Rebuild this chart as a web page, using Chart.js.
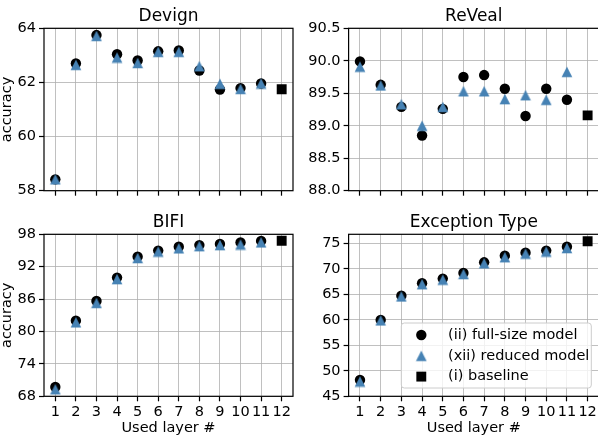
<!DOCTYPE html>
<html lang="en">
  <head>
    <meta charset="UTF-8" />
    <title>Used layer accuracy</title>
    <script src="https://cdn.jsdelivr.net/npm/chart.js"></script>
    <style>
      html, body { margin: 0; padding: 0; background: #fff; width: 598px; height: 446px; overflow: hidden; position: relative; }
      canvas { position: absolute; }
    </style>
  </head>
  <body>
    <canvas id="devign" width="300" height="205" style="left: 0; top: 0"></canvas>
    <canvas id="reveal" width="308" height="205" style="left: 298px; top: 0"></canvas>
    <canvas id="bifi" width="300" height="241" style="left: 0; top: 205px"></canvas>
    <canvas id="exception" width="308" height="241" style="left: 298px; top: 205px"></canvas>
    <script>
      // data
      const layers = [1, 2, 3, 4, 5, 6, 7, 8, 9, 10, 11];
      const baselineLayer = 12;
      const layerTicks = [1, 2, 3, 4, 5, 6, 7, 8, 9, 10, 11, 12];

      const devignFull = [58.42, 62.7, 63.75, 63.04, 62.81, 63.15, 63.18, 62.44, 61.74, 61.79, 61.96];
      const devignReduced = [58.42, 62.65, 63.72, 62.92, 62.72, 63.13, 63.13, 62.6, 61.95, 61.76, 61.96];
      const devignBaseline = 61.75;
      const devignTicks = [58, 60, 62, 64];

      const revealFull = [89.99, 89.63, 89.29, 88.85, 89.26, 89.75, 89.78, 89.57, 89.15, 89.57, 89.4];
      const revealReduced = [89.91, 89.62, 89.33, 89.0, 89.29, 89.53, 89.53, 89.41, 89.47, 89.4, 89.83];
      const revealBaseline = 89.16;
      const revealTicks = [88.0, 88.5, 89.0, 89.5, 90.0, 90.5];

      const bifiFull = [69.73, 82.01, 85.65, 89.98, 93.86, 94.98, 95.7, 96.0, 96.2, 96.5, 96.77];
      const bifiReduced = [69.3, 81.7, 85.3, 89.7, 93.6, 94.8, 95.4, 95.8, 96.0, 96.1, 96.5];
      const bifiBaseline = 96.8;
      const bifiTicks = [68, 74, 80, 86, 92, 98];

      const exceptionFull = [48.2, 60.0, 64.76, 67.2, 68.1, 69.2, 71.3, 72.6, 73.2, 73.6, 74.35];
      const exceptionReduced = [47.9, 59.9, 64.6, 67.0, 67.9, 69.0, 71.1, 72.3, 73.0, 73.4, 74.1];
      const exceptionBaseline = 75.45;
      const exceptionTicks = [45, 50, 55, 60, 65, 70, 75];

      const seriesLabels = ["(ii) full-size model", "(xii) reduced model", "(i) baseline"];

      Chart.defaults.font.family = "'DejaVu Sans', sans-serif";
      Chart.defaults.color = "#000";

      // matplotlib style triangle, centred on its bounding box
      const tri = document.createElement("canvas");
      tri.width = 12;
      tri.height = 12;
      const tctx = tri.getContext("2d");
      tctx.fillStyle = "#4682b4";
      tctx.beginPath();
      tctx.moveTo(6, 0.7);
      tctx.lineTo(11.3, 11.3);
      tctx.lineTo(0.7, 11.3);
      tctx.closePath();
      tctx.fill();

      // spines on all four sides + title centred over the plot area
      const frame = {
        id: "frame",
        afterDatasetsDraw(chart, args, opts) {
          const { ctx, chartArea } = chart;
          ctx.save();
          ctx.strokeStyle = "#000";
          ctx.lineWidth = 1.2;
          ctx.strokeRect(chartArea.left, chartArea.top, chartArea.right - chartArea.left, chartArea.bottom - chartArea.top);
          ctx.fillStyle = "#000";
          ctx.font = "17px 'DejaVu Sans'";
          ctx.textAlign = "center";
          ctx.textBaseline = "alphabetic";
          ctx.fillText(opts.text, (chartArea.left + chartArea.right) / 2, chartArea.top - 7);
          ctx.restore();
        },
      };

      const legendBox = {
        id: "legendBox",
        afterDraw(chart, args, opts) {
          if (!opts.show) return;
          const { ctx, chartArea } = chart;
          const w = 190, h = 65;
          const x = chartArea.right - 7.7 - w;
          const y = chartArea.bottom - 8.3 - h;
          ctx.save();
          ctx.fillStyle = "rgba(255,255,255,0.8)";
          ctx.strokeStyle = "#cccccc";
          ctx.lineWidth = 1;
          ctx.beginPath();
          ctx.roundRect(x, y, w, h, 3);
          ctx.fill();
          ctx.stroke();
          chart.data.datasets.forEach((ds, i) => {
            const cy = y + 12 + i * 20.8;
            ctx.fillStyle = ds.backgroundColor;
            Chart.helpers.drawPoint(ctx, { pointStyle: ds.pointStyle, radius: ds.pointRadius, rotation: 0, borderWidth: 0 }, x + 20, cy);
            ctx.fillStyle = "#000";
            ctx.font = "14.5px 'DejaVu Sans'";
            ctx.textBaseline = "middle";
            ctx.textAlign = "left";
            ctx.fillText(ds.label, x + 46.7, cy);
          });
          ctx.restore();
        },
      };

      function makeChart(id, o) {
        const ctx = document.getElementById(id).getContext("2d");
        return new Chart(ctx, {
          type: "scatter",
          data: {
            datasets: [
              {
                label: seriesLabels[0],
                data: layers.map((x, i) => ({ x: x, y: o.full[i] })),
                pointStyle: "circle",
                pointRadius: 5.2,
                backgroundColor: "#000",
                borderWidth: 0,
                order: 2,
              },
              {
                label: seriesLabels[1],
                data: layers.map((x, i) => ({ x: x, y: o.reduced[i] })),
                pointStyle: tri,
                pointRadius: 6,
                backgroundColor: "#4682b4",
                borderWidth: 0,
                order: 1,
              },
              {
                label: seriesLabels[2],
                data: [{ x: baselineLayer, y: o.baseline }],
                pointStyle: "rect",
                pointRadius: 7,
                backgroundColor: "#000",
                borderWidth: 0,
                order: 0,
              },
            ],
          },
          options: {
            responsive: false,
            animation: false,
            events: [],
            layout: { padding: { left: 0, right: 0, top: o.padTop, bottom: o.padBottom } },
            plugins: {
              legend: { display: false },
              tooltip: { enabled: false },
              title: { display: false },
              frame: { text: o.title },
              legendBox: { show: !!o.legend },
            },
            scales: {
              x: {
                type: "linear",
                min: 0.45,
                max: 12.55,
                afterBuildTicks: (s) => { s.ticks = layerTicks.map((v) => ({ value: v })); },
                afterFit: (s) => { s.height = o.xHeight; },
                ticks: {
                  font: { size: 14.5 },
                  padding: 2,
                  maxRotation: 0,
                  autoSkip: false,
                  callback: (v) => (o.showX ? String(v) : ""),
                },
                grid: { color: "#b0b0b0", lineWidth: 0.8, tickColor: "#000", tickWidth: 1.2, tickLength: 5 },
                border: { display: false },
                title: {
                  display: o.showX,
                  text: "Used layer #",
                  font: { size: 14.5, lineHeight: 1.2 },
                  padding: { top: 0, bottom: 8.8 },
                },
              },
              y: {
                min: o.yMin,
                max: o.yMax,
                afterBuildTicks: (s) => { s.ticks = o.yTicks.map((v) => ({ value: v })); },
                afterFit: (s) => { s.width = o.yWidth; },
                ticks: {
                  font: { size: 14.5 },
                  padding: 3,
                  callback: (v) => v.toFixed(o.decimals),
                },
                grid: { color: "#b0b0b0", lineWidth: 0.8, tickColor: "#000", tickWidth: 1.2, tickLength: 5 },
                border: { display: false },
                title: {
                  display: !!o.yLabel,
                  text: "accuracy",
                  font: { size: 14.5, lineHeight: 1 },
                  padding: { top: 0, bottom: 0 },
                },
              },
            },
          },
          plugins: [frame, legendBox],
        });
      }

      makeChart("devign", {
        title: "Devign", full: devignFull, reduced: devignReduced, baseline: devignBaseline,
        yMin: 58, yMax: 64, yTicks: devignTicks, decimals: 0, yLabel: true, showX: false,
        yWidth: 44, xHeight: 10, padTop: 28.3, padBottom: 4.3,
      });
      makeChart("reveal", {
        title: "ReVeal", full: revealFull, reduced: revealReduced, baseline: revealBaseline,
        yMin: 88, yMax: 90.5, yTicks: revealTicks, decimals: 1, yLabel: false, showX: false,
        yWidth: 50.6, xHeight: 10, padTop: 28.3, padBottom: 4.3,
      });
      makeChart("bifi", {
        title: "BIFI", full: bifiFull, reduced: bifiReduced, baseline: bifiBaseline,
        yMin: 68, yMax: 98, yTicks: bifiTicks, decimals: 0, yLabel: true, showX: true,
        yWidth: 44, xHeight: 49.7, padTop: 29.3, padBottom: 0,
      });
      makeChart("exception", {
        title: "Exception Type", full: exceptionFull, reduced: exceptionReduced, baseline: exceptionBaseline,
        yMin: 45, yMax: 76.8, yTicks: exceptionTicks, decimals: 0, yLabel: false, showX: true, legend: true,
        yWidth: 50.6, xHeight: 49.7, padTop: 29.3, padBottom: 0,
      });
    </script>
  </body>
</html>
